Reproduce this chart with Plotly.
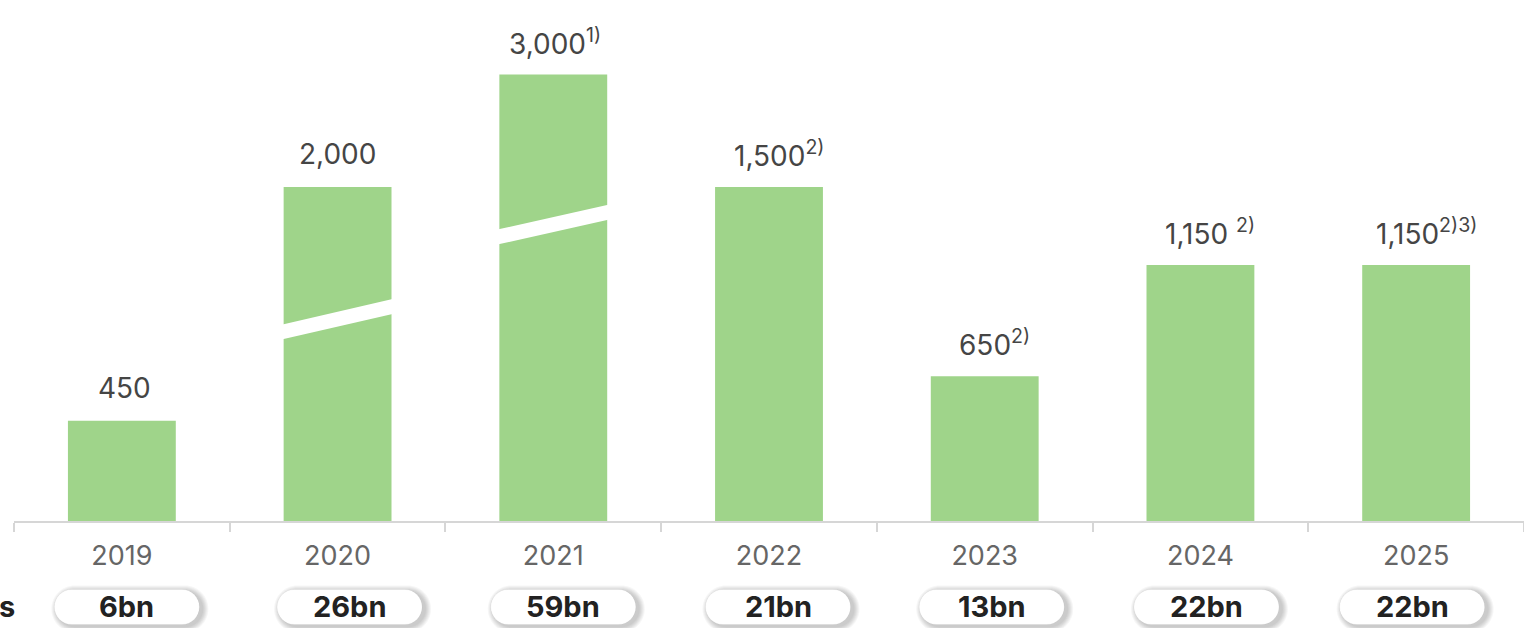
import plotly.graph_objects as go

YEARS = ["2019", "2020", "2021", "2022", "2023", "2024", "2025"]
VALUES = [450, 2000, 3000, 1500, 650, 1150, 1150]
# height actually drawn (2020 and 2021 bars are broken / truncated)
SHOWN = [450, 1500, 2005, 1500, 650, 1150, 1150]
NOTES = ["", "", "1)", "2)", "2)", "2)", "2)3)"]
TOTALS = ["6bn", "26bn", "59bn", "21bn", "13bn", "22bn", "22bn"]

GREEN = "#9fd48a"
AXIS = "#d6d6d6"

# break marks: (bar index, left-centre y, right-centre y) in data units
BREAKS = [(1, 846, 967), (2, 1273, 1390)]
BREAK_GAP = 67
# small horizontal nudges (px)
LABEL_SHIFT = [3, 0, 2, 10, 10, 10, 10]
PILL_SHIFT = [5, 12, 10, 9, 7, 6, -4]
PILL_W, PILL_H = 145, 35
PILL_Y = -0.165


def pill_path(w, h, dx=0, dy=0):
    r = h / 2
    k = 0.5523 * r
    x0 = w / 2 - r
    pts = [(-x0, -r), (x0, -r), (x0 + k, -r), (x0 + r, -k), (x0 + r, 0),
           (x0 + r, k), (x0 + k, r), (x0, r), (-x0, r), (-x0 - k, r),
           (-x0 - r, k), (-x0 - r, 0), (-x0 - r, -k), (-x0 - k, -r), (-x0, -r)]
    p = [f"{a + dx:.1f},{b + dy:.1f}" for a, b in pts]
    return (f"M {p[0]} L {p[1]} C {p[2]} {p[3]} {p[4]} "
            f"C {p[5]} {p[6]} {p[7]} L {p[8]} "
            f"C {p[9]} {p[10]} {p[11]} C {p[12]} {p[13]} {p[14]} Z")


x = list(range(len(YEARS)))
fig = go.Figure(go.Bar(
    x=x, y=SHOWN, width=0.5,
    marker=dict(color=GREEN, line=dict(width=0)),
    hoverinfo="skip",
))

# value labels
for i, (v, n) in enumerate(zip(VALUES, NOTES)):
    sep = " " if YEARS[i] == "2024" else ""
    txt = f"{v:,}" + (f"{sep}<sup>{n}</sup>" if n else "")
    fig.add_annotation(
        x=i, y=SHOWN[i], text=txt, showarrow=False,
        xshift=LABEL_SHIFT[i], yshift=33, yanchor="middle",
        font=dict(size=28, color="#454545"),
    )

# white diagonal breaks
for i, yl, yr in BREAKS:
    h = BREAK_GAP / 2
    fig.add_shape(
        type="path", xref="x", yref="y",
        path=f"M {i - 0.27},{yl - h} L {i + 0.27},{yr - h} "
             f"L {i + 0.27},{yr + h} L {i - 0.27},{yl + h} Z",
        fillcolor="white", line=dict(width=0), layer="above",
    )

# pills with soft shadow
for i, t in enumerate(TOTALS):
    sx = PILL_SHIFT[i]
    for e in [6, 5, 4, 3, 2, 1]:
        fig.add_shape(
            type="path", xref="x", yref="paper",
            xsizemode="pixel", ysizemode="pixel",
            xanchor=i, yanchor=PILL_Y,
            path=pill_path(PILL_W + 2 * e, PILL_H + 2 * e, sx + 3, -2),
            fillcolor="rgba(0,0,0,0.035)", line=dict(width=0),
            layer="above",
        )
    fig.add_shape(
        type="path", xref="x", yref="paper",
        xsizemode="pixel", ysizemode="pixel",
        xanchor=i, yanchor=PILL_Y,
        path=pill_path(PILL_W, PILL_H, sx, 0),
        fillcolor="white", line=dict(width=0.6, color="rgba(0,0,0,0.06)"),
        layer="above",
    )
    fig.add_annotation(
        x=i, y=PILL_Y, xref="x", yref="paper", text=f"<b>{t}</b>",
        showarrow=False, xshift=sx, yanchor="middle",
        font=dict(size=29, color="#222222"),
    )

# row label cut at the left edge
fig.add_annotation(
    x=3 / 1510, y=PILL_Y, xref="paper", yref="paper", text="<b>s</b>",
    showarrow=False, xanchor="right", yanchor="middle",
    font=dict(size=29, color="#222222"),
)

fig.update_xaxes(
    range=[-0.5, 6.5], tickvals=x, ticktext=YEARS, ticks="",
    showline=True, linecolor=AXIS, linewidth=2, showgrid=False, zeroline=False,
    tickfont=dict(size=27, color="#666666"), ticklabelstandoff=10,
    minor=dict(tickvals=[i - 0.5 for i in range(len(YEARS) + 1)],
               ticks="outside", ticklen=9, tickcolor=AXIS, tickwidth=2),
)
fig.update_yaxes(range=[0, 2340], visible=False, showgrid=False, zeroline=False)

fig.update_layout(
    width=1524, height=628,
    margin=dict(l=14, r=0, t=0, b=107),
    paper_bgcolor="white", plot_bgcolor="white",
    font=dict(family="Inter, sans-serif"),
    showlegend=False,
)

fig.write_html("out.html", config={"displayModeBar": False},
               post_script="document.body.style.margin='0';")
